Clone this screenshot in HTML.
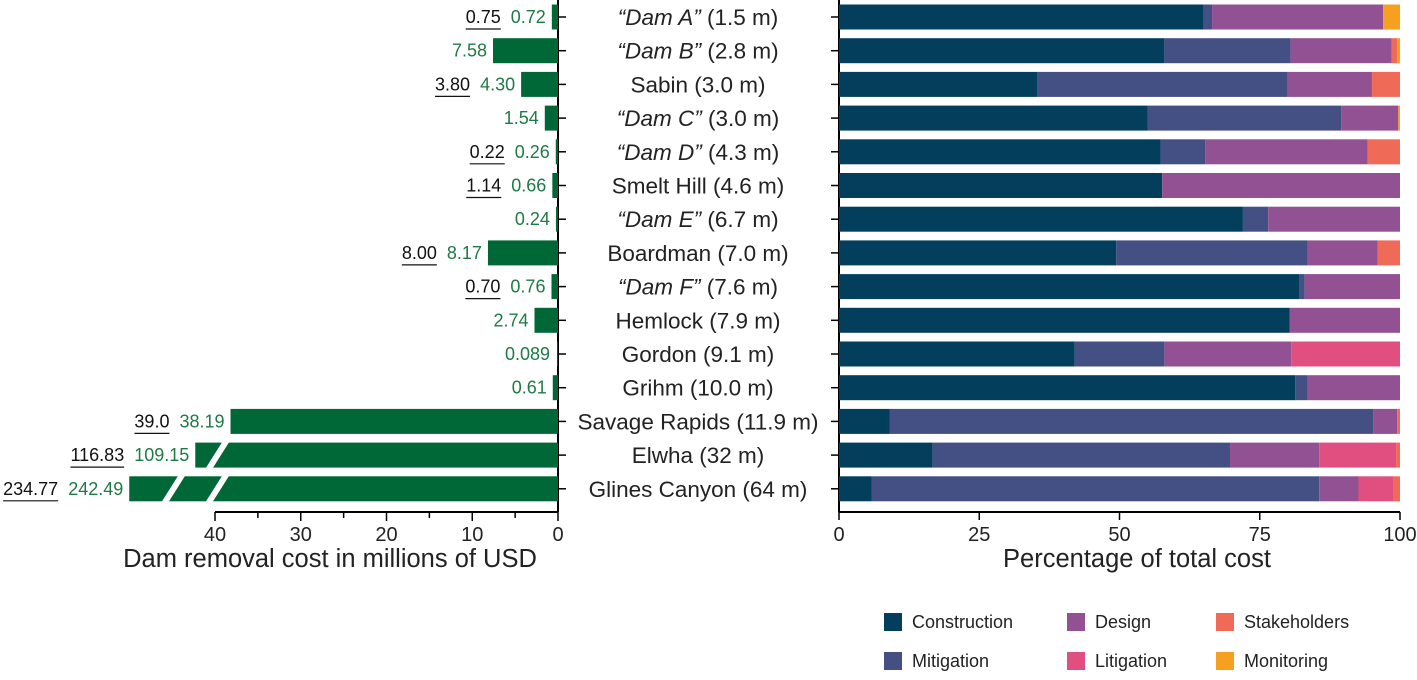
<!DOCTYPE html>
<html><head><meta charset="utf-8"><style>
body{margin:0;background:#fff;width:1417px;height:675px;overflow:hidden;font-family:"Liberation Sans",sans-serif}
svg text{font-family:"Liberation Sans",sans-serif}
</style></head><body>
<svg id="c" width="1417" height="675"></svg>
<script>
const categories=[['Dam  A',1,'1.5 m'],['Dam B',1,'2.8 m'],['Sabin',0,'3.0 m'],['Dam C',1,'3.0 m'],['Dam D',1,'4.3 m'],['Smelt Hill',0,'4.6 m'],['Dam E',1,'6.7 m'],['Boardman',0,'7.0 m'],['Dam F',1,'7.6 m'],['Hemlock',0,'7.9 m'],['Gordon',0,'9.1 m'],['Grihm',0,'10.0 m'],['Savage Rapids',0,'11.9 m'],['Elwha',0,'32 m'],['Glines Canyon',0,'64 m']];
const costs=[0.72,7.58,4.30,1.54,0.26,0.66,0.24,8.17,0.76,2.74,0.089,0.61,38.19,109.15,242.49];
const costLabels=['0.72','7.58','4.30','1.54','0.26','0.66','0.24','8.17','0.76','2.74','0.089','0.61','38.19','109.15','242.49'];
const estLabels=['0.75','','3.80','','0.22','1.14','','8.00','0.70','','','','39.0','116.83','234.77'];
const breakCap=[null,null,null,null,null,null,null,null,null,null,null,null,null,42.3,50];
const construction=[65,58,35.3,55,57.3,57.6,72,49.4,82,80.3,42,81.3,9,16.7,5.8];
const mitigation=[1.5,22.5,44.7,34.5,8,0,4.5,34.1,1,0,16,2.2,86.2,53,79.8];
const design=[30.5,18,15,10.2,28.9,42.4,23.5,12.5,17,19.7,22.6,16.5,4.3,15.9,7];
const litigation=[0,0,0,0,0,0,0,0,0,0,19.4,0,0,13.7,6.3];
const stakeholders=[0,1,5,0,5.8,0,0,4,0,0,0,0,0.5,0.7,1.1];
const monitoring=[3,0.5,0,0.3,0,0,0,0,0,0,0,0,0,0,0];
const seriesNames=['Construction','Mitigation','Design','Litigation','Stakeholders','Monitoring'];
const seriesData=[construction,mitigation,design,litigation,stakeholders,monitoring];
const colors=['#033f5c','#444f83','#925193','#e14f80','#ef6b58','#f5a11f'];
const leftTicks=[0,10,20,30,40];
const rightTicks=[0,25,50,75,100];

const svg=document.getElementById('c');const NS='http://www.w3.org/2000/svg';
function el(t,a,p){const e=document.createElementNS(NS,t);for(const k in a)e.setAttribute(k,a[k]);(p||svg).appendChild(e);return e;}
const L0=558,LS=(558-215)/40;const xl=v=>L0-v*LS;
const R0=839,RS=(1400-839)/100;const xr=v=>R0+v*RS;
const yc=i=>17+i*33.7;const BH=25;
el('line',{x1:L0,y1:0,x2:L0,y2:512,stroke:'#000','stroke-width':2});
el('line',{x1:xl(40),y1:512,x2:L0,y2:512,stroke:'#000','stroke-width':2});
for(let v=0;v<=40;v+=5)el('line',{x1:xl(v),y1:512,x2:xl(v),y2:v%10?518:521,stroke:'#000','stroke-width':1.5});
leftTicks.forEach(v=>{const t=el('text',{x:xl(v),y:541,'font-size':20,'text-anchor':'middle',fill:'#222'});t.textContent=v;});
let t=el('text',{x:330,y:567,'font-size':25.5,'text-anchor':'middle',fill:'#222'});t.textContent='Dam removal cost in millions of USD';

el('line',{x1:R0,y1:0,x2:R0,y2:512,stroke:'#000','stroke-width':2});
el('line',{x1:R0,y1:512,x2:1400,y2:512,stroke:'#000','stroke-width':2});
rightTicks.forEach(v=>{el('line',{x1:xr(v),y1:512,x2:xr(v),y2:520,stroke:'#000','stroke-width':1.5});const t=el('text',{x:xr(v),y:541,'font-size':20,'text-anchor':'middle',fill:'#222'});t.textContent=v;});
t=el('text',{x:1137,y:567,'font-size':25.5,'text-anchor':'middle',fill:'#222'});t.textContent='Percentage of total cost';

categories.forEach((c,i)=>{
 const y=yc(i);
 el('line',{x1:L0,y1:y,x2:L0+8,y2:y,stroke:'#000','stroke-width':1.5});
 el('line',{x1:R0-8,y1:y,x2:R0,y2:y,stroke:'#000','stroke-width':1.5});
 const dv=breakCap[i]!==null?breakCap[i]:costs[i];
 const b=el('rect',{x:xl(dv),y:y-BH/2,width:L0-xl(dv),height:BH,fill:'#006837'});
 
 if(breakCap[i]!==null){const n=breakCap[i]>45?2:1;for(let k=0;k<n;k++){const bx=xl(40.3)-k*44;el('polygon',{points:`${bx+10},${y-BH/2-1} ${bx+17},${y-BH/2-1} ${bx},${y+BH/2+1} ${bx-7},${y+BH/2+1}`,fill:'#fff'});}}
 const lx=Math.min(xl(dv),L0-2)-6;
 const g=el('text',{x:lx,y:y+6,'font-size':18,'text-anchor':'end',fill:'#1f7a45'});g.textContent=costLabels[i];
 
 if(estLabels[i]){const w=g.getComputedTextLength();const ex=lx-w-10;const e=el('text',{x:ex,y:y+6,'font-size':18,'text-anchor':'end',fill:'#111'});e.textContent=estLabels[i];
  
  const ew=e.getComputedTextLength();el('line',{x1:ex-ew,y1:y+12,x2:ex,y2:y+12,stroke:'#111','stroke-width':1.2});}
 const cl=el('text',{x:698,y:y+8,'font-size':22.5,'text-anchor':'middle',fill:'#222'});
 
 if(c[1]){const s=document.createElementNS(NS,'tspan');s.setAttribute('font-style','italic');s.textContent='\u201C'+c[0]+'\u201D';cl.appendChild(s);cl.appendChild(document.createTextNode(' ('+c[2]+')'));}
 else cl.textContent=c[0]+' ('+c[2]+')';
 let acc=0;seriesData.forEach((s,k)=>{const v=s[i];if(v>0){const r=el('rect',{x:xr(acc),y:y-BH/2,width:v*RS,height:BH,fill:colors[k]});}acc+=v;});
});
const lg=[[0,884,622],[1,884,661],[2,1067,622],[3,1067,661],[4,1216,622],[5,1216,661]];
lg.forEach(([k,x,y])=>{el('rect',{x:x,y:y-9,width:18,height:18,fill:colors[k]});const t=el('text',{x:x+28,y:y+6,'font-size':18,fill:'#222'});t.textContent=seriesNames[k];});
</script>
</body></html>
